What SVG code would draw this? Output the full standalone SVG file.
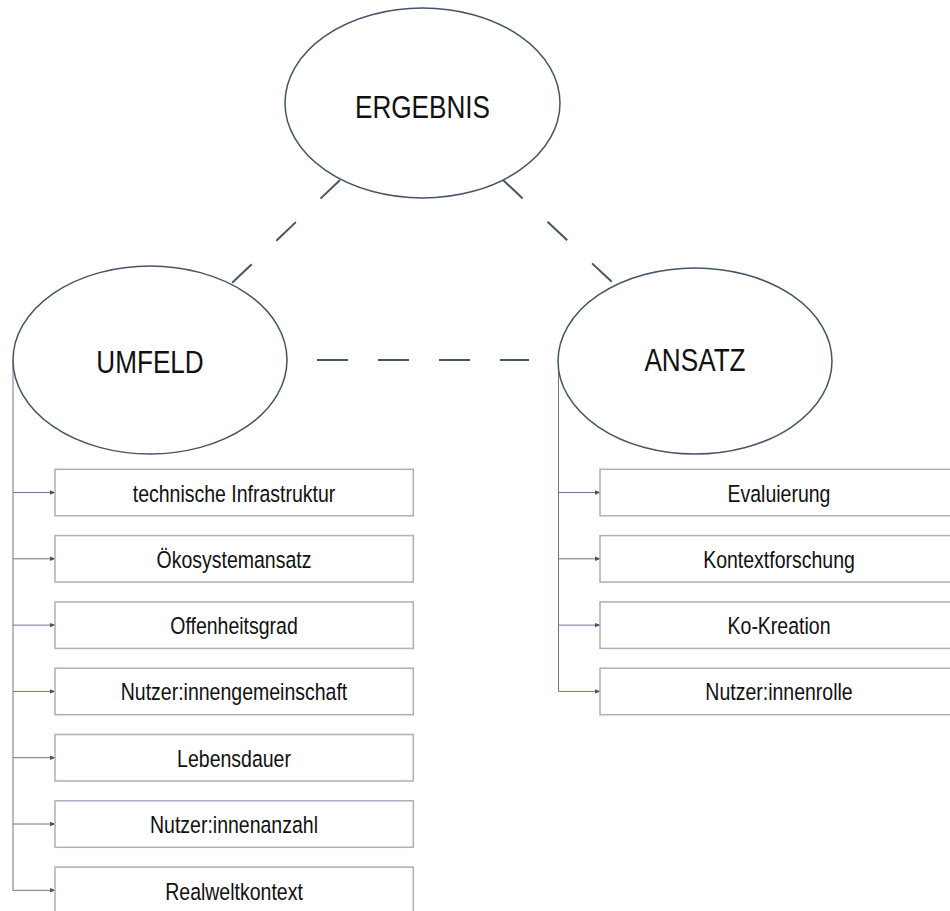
<svg xmlns="http://www.w3.org/2000/svg" width="950" height="911" viewBox="0 0 950 911">
<style>
.ell{fill:#fff;stroke:#44546A;stroke-width:1.5}
.box{fill:#fff;stroke:#A9B0BE;stroke-width:1.5}
.big{font-family:"Liberation Sans",Arial,sans-serif;font-size:31.5px;fill:#111;text-anchor:middle}
.lbl{font-family:"Liberation Sans",Arial,sans-serif;font-size:23.5px;fill:#111;text-anchor:middle}
.dash{stroke:#44546A;stroke-width:2;fill:none}
.tree{stroke:#6A778F;stroke-width:1;fill:none}
.arr{stroke:#6A778F;stroke-width:1;fill:none;marker-end:url(#ah)}
</style>
<defs>
<marker id="ah" markerWidth="6" markerHeight="6" refX="5" refY="3" orient="auto" markerUnits="userSpaceOnUse">
<path d="M0,0.8 L5.5,3 L0,5.2 Z" fill="#44546A"/>
</marker>
</defs>
<rect width="950" height="911" fill="#fff"/>
<g id="connectors">
<line class="dash" x1="340" y1="180" x2="232" y2="283" stroke-dasharray="27 34"/>
<line class="dash" x1="503" y1="180" x2="613" y2="283" stroke-dasharray="27 34"/>
<line class="dash" x1="317" y1="360" x2="529" y2="360" stroke-dasharray="31 30"/>
<line class="tree" x1="13" y1="360" x2="13" y2="890.5"/>
<line class="arr" x1="13" y1="492.5" x2="55" y2="492.5"/>
<line class="arr" x1="13" y1="558.8" x2="55" y2="558.8"/>
<line class="arr" x1="13" y1="625.1" x2="55" y2="625.1"/>
<line class="arr" x1="13" y1="691.4" x2="55" y2="691.4"/>
<line class="arr" x1="13" y1="757.7" x2="55" y2="757.7"/>
<line class="arr" x1="13" y1="824" x2="55" y2="824"/>
<line class="arr" x1="13" y1="890.3" x2="55" y2="890.3"/>
<line class="tree" x1="558.5" y1="360" x2="558.5" y2="691.4"/>
<line class="arr" x1="558.5" y1="492.5" x2="600" y2="492.5"/>
<line class="arr" x1="558.5" y1="558.8" x2="600" y2="558.8"/>
<line class="arr" x1="558.5" y1="625.1" x2="600" y2="625.1"/>
<line class="arr" x1="558.5" y1="691.4" x2="600" y2="691.4"/>
</g>
<g id="ergebnis">
<ellipse class="ell" cx="422.5" cy="103" rx="137.5" ry="95"/>
<text class="big" transform="translate(422.5 118) scale(0.83 1)">ERGEBNIS</text>
</g>
<g id="umfeld">
<ellipse class="ell" cx="150" cy="360" rx="137" ry="94"/>
<text class="big" transform="translate(150 373) scale(0.83 1)">UMFELD</text>
</g>
<g id="ansatz">
<ellipse class="ell" cx="695" cy="361" rx="137" ry="93"/>
<text class="big" transform="translate(695 371) scale(0.83 1)">ANSATZ</text>
</g>
<g id="u1"><rect class="box" x="55" y="469.3" width="358.3" height="46.5"/><text class="lbl" transform="translate(234 501.5) scale(0.83 1)">technische Infrastruktur</text></g>
<g id="u2"><rect class="box" x="55" y="535.6" width="358.3" height="46.5"/><text class="lbl" transform="translate(234 567.8) scale(0.83 1)">Ökosystemansatz</text></g>
<g id="u3"><rect class="box" x="55" y="601.9" width="358.3" height="46.5"/><text class="lbl" transform="translate(234 634.1) scale(0.83 1)">Offenheitsgrad</text></g>
<g id="u4"><rect class="box" x="55" y="668.2" width="358.3" height="46.5"/><text class="lbl" transform="translate(234 700.4) scale(0.83 1)">Nutzer:innengemeinschaft</text></g>
<g id="u5"><rect class="box" x="55" y="734.5" width="358.3" height="46.5"/><text class="lbl" transform="translate(234 766.7) scale(0.83 1)">Lebensdauer</text></g>
<g id="u6"><rect class="box" x="55" y="800.8" width="358.3" height="46.5"/><text class="lbl" transform="translate(234 833) scale(0.83 1)">Nutzer:innenanzahl</text></g>
<g id="u7"><rect class="box" x="55" y="867.1" width="358.3" height="60"/><text class="lbl" transform="translate(234 899.6) scale(0.83 1)">Realweltkontext</text></g>
<g id="a1"><rect class="box" x="600" y="469.3" width="358.3" height="46.5"/><text class="lbl" transform="translate(779 501.5) scale(0.83 1)">Evaluierung</text></g>
<g id="a2"><rect class="box" x="600" y="535.6" width="358.3" height="46.5"/><text class="lbl" transform="translate(779 567.8) scale(0.83 1)">Kontextforschung</text></g>
<g id="a3"><rect class="box" x="600" y="601.9" width="358.3" height="46.5"/><text class="lbl" transform="translate(779 634.1) scale(0.83 1)">Ko-Kreation</text></g>
<g id="a4"><rect class="box" x="600" y="668.2" width="358.3" height="46.5"/><text class="lbl" transform="translate(779 700.4) scale(0.83 1)">Nutzer:innenrolle</text></g>
</svg>
